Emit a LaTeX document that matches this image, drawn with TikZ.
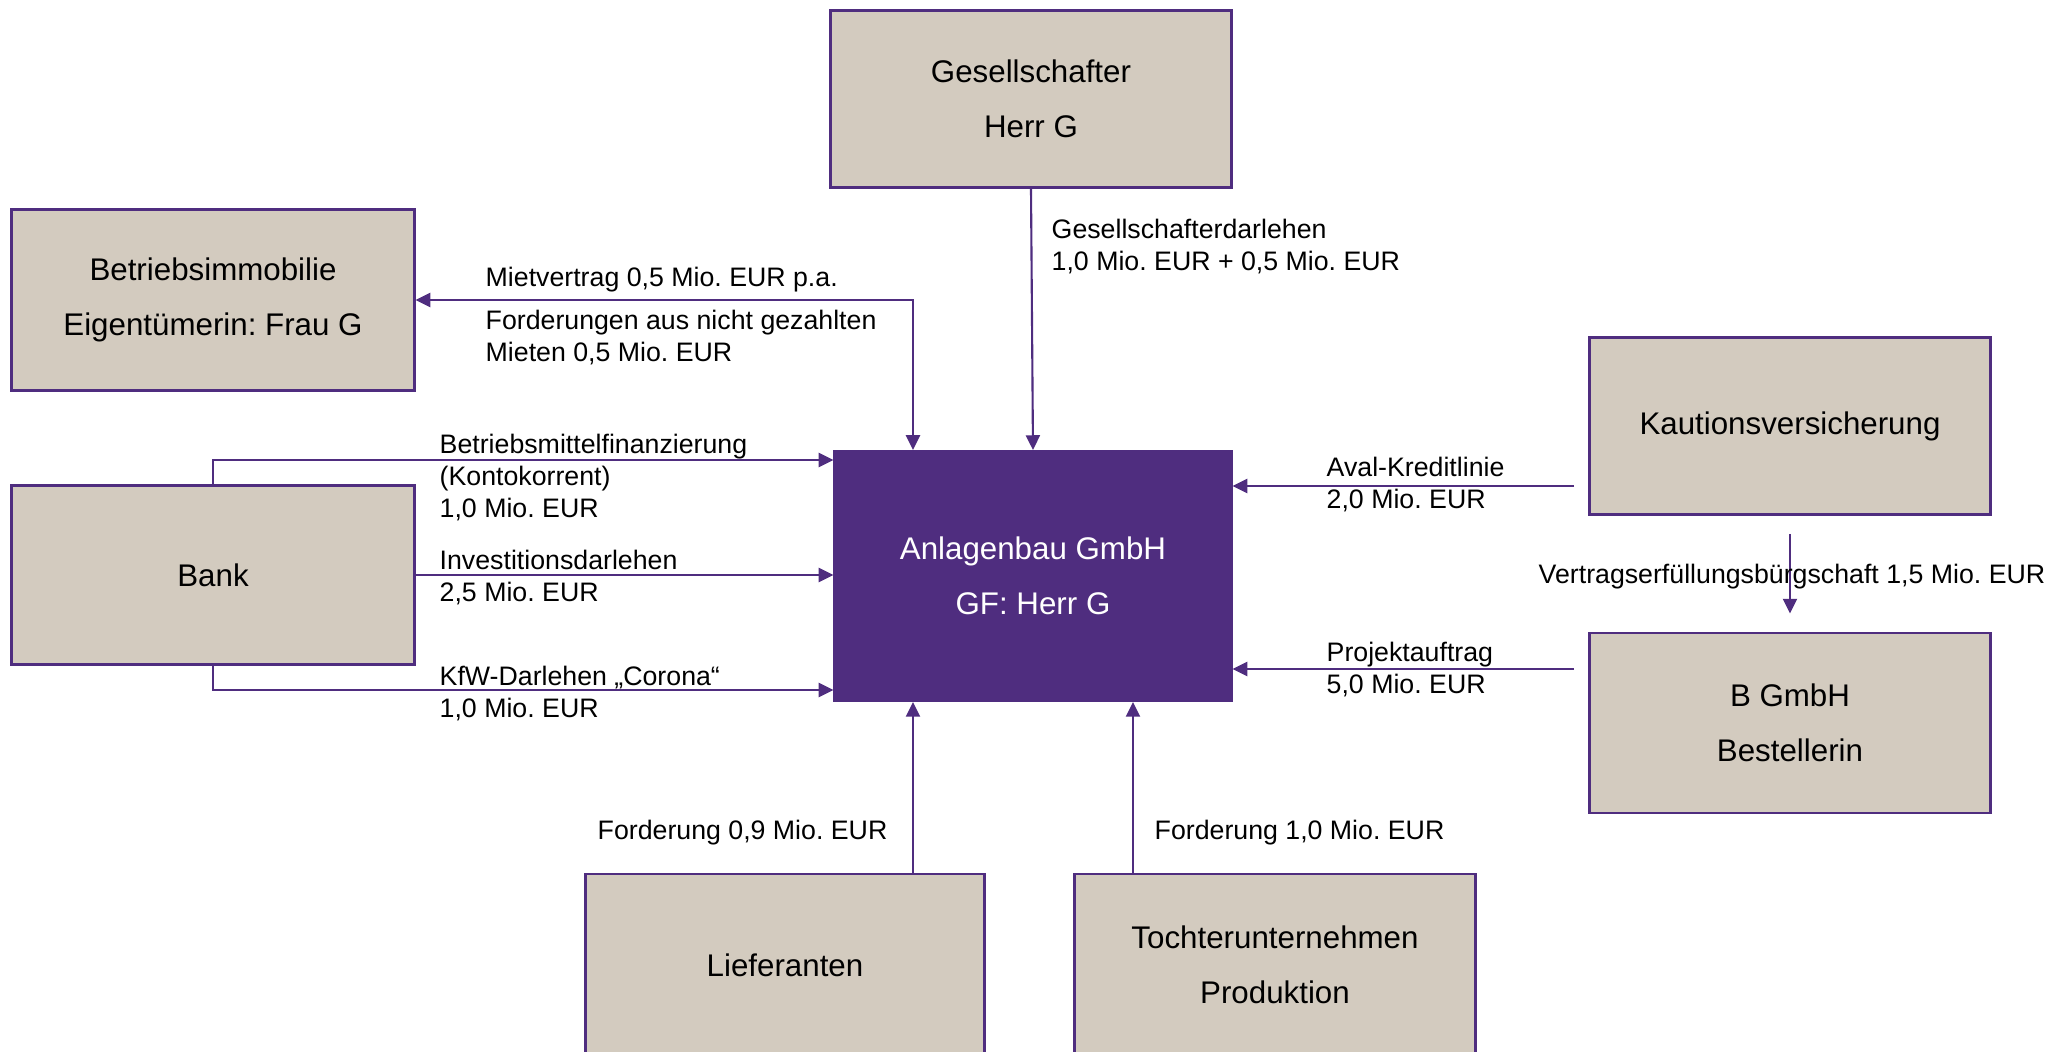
\documentclass[tikz,border=0pt]{standalone}
\usepackage{fontspec}
\setmainfont{Liberation Sans}
\frenchspacing
\usetikzlibrary{arrows.meta}
\definecolor{gtlila}{HTML}{4F2D7F}
\definecolor{gtsand}{HTML}{D3CBBF}
\tikzset{
  >={Triangle[length=4.2pt,width=4pt]},
  partner/.style={draw=gtlila, line width=0.8pt, fill=gtsand, align=center,
    inner sep=0pt, font=\fontsize{8.9}{15.6}\selectfont},
  fluss/.style={draw=gtlila, line width=0.6pt, ->},
  betrag/.style={anchor=base west, inner sep=0pt, align=left,
    font=\fontsize{7.6}{9.1}\selectfont},
}

\begin{document}
\begin{tikzpicture}[x=0.01cm, y=-0.01cm]
\useasboundingbox (0,0) rectangle (2065,1052);
% Beteiligte
\node[partner, minimum width=4cm, minimum height=1.77cm] (ges) at (1031,99) {Gesellschafter\\Herr G};
\node[partner, minimum width=4.02cm, minimum height=1.81cm] (immo) at (213,300) {Betriebsimmobilie\\Eigentümerin: Frau G};
\node[partner, minimum width=4.02cm, minimum height=1.79cm] (bank) at (213,575) {Bank};
\node[partner, minimum width=3.96cm, minimum height=2.49cm, fill=gtlila, text=white] (anl) at (1033,576) {Anlagenbau GmbH\\GF: Herr G};
\node[partner, minimum width=4cm, minimum height=1.77cm] (kaut) at (1790,426) {Kautionsversicherung};
\node[partner, minimum width=4cm, minimum height=1.8cm] (bgm) at (1790,723) {B GmbH\\Bestellerin};
\node[partner, minimum width=3.98cm, minimum height=1.82cm] (lief) at (785,965) {Lieferanten};
\node[partner, minimum width=4cm, minimum height=1.82cm] (toch) at (1275,965) {Tochterunternehmen\\Produktion};
\coordinate (kautaus) at (1574,486);
\coordinate (bgmaus) at (1574,669);
% Beziehungen
\draw[fluss, <->] (immo.east) -| (anl.north -| 913,0);
\draw[fluss] (ges.south) -- (anl.north);
\draw[fluss] (bank.north) |- (anl.west |- 0,460);
\draw[fluss] (bank.east) -- (anl.west |- bank.east);
\draw[fluss] (bank.south) |- (anl.west |- 0,690);
\draw[fluss] (kautaus) -- (anl.east |- kautaus);
\draw[fluss] ([yshift=-0.18cm]kaut.south) -- ([yshift=0.18cm]bgm.north);
\draw[fluss] (bgmaus) -- (anl.east |- bgmaus);
\draw[fluss] (lief.north -| 913,0) -- (anl.south -| 913,0);
\draw[fluss] (toch.north -| 1133,0) -- (anl.south -| 1133,0);
% Betraege (base = letzte Zeile)
\node[betrag] (miet) at (485,287) {Mietvertrag 0,5 Mio. EUR p.a.};
\node[betrag] (ford) at (485,362) {Forderungen aus nicht gezahlten\\Mieten 0,5 Mio. EUR};
\node[betrag] (gdarl) at (1051,271) {Gesellschafterdarlehen\\1,0 Mio. EUR + 0,5 Mio. EUR};
\node[betrag] (bmf) at (439,518) {Betriebsmittelfinanzierung\\(Kontokorrent)\\1,0 Mio. EUR};
\node[betrag] (inv) at (439,602) {Investitionsdarlehen\\2,5 Mio. EUR};
\node[betrag] (kfw) at (439,718) {KfW-Darlehen „Corona“\\1,0 Mio. EUR};
\node[betrag] (aval) at (1326,509) {Aval-Kreditlinie\\2,0 Mio. EUR};
\node[betrag] (vefb) at (1538,584) {Vertragserfüllungsbürgschaft 1,5 Mio. EUR};
\node[betrag] (proj) at (1326,694) {Projektauftrag\\5,0 Mio. EUR};
\node[betrag] (flief) at (597,840) {Forderung 0,9 Mio. EUR};
\node[betrag] (ftoch) at (1154,840) {Forderung 1,0 Mio. EUR};
\end{tikzpicture}
\end{document}
